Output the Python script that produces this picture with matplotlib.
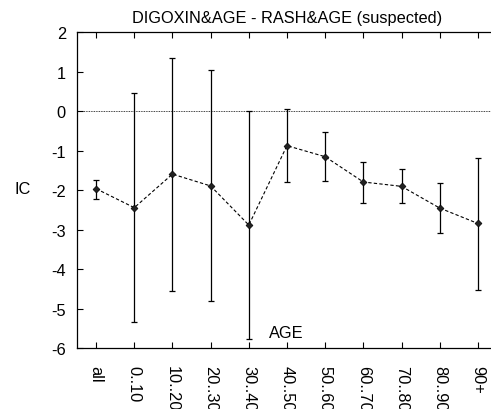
"""IC by age band with error bars, gnuplot-like look."""

import matplotlib.pyplot as plt
import numpy as np

plt.rcParams["font.family"] = ["Liberation Sans", "DejaVu Sans"]

# Age bands and the IC estimates with their lower / upper bounds
categories = ["all", "0..10", "10..20", "20..30", "30..40", "40..50",
              "50..60", "60..70", "70..80", "80..90", "90+"]
ic_values = [-1.96, -2.44, -1.59, -1.89, -2.88, -0.87,
             -1.15, -1.79, -1.90, -2.45, -2.84]
ic_lower = [-2.21, -5.34, -4.54, -4.81, -5.77, -1.78,
            -1.77, -2.31, -2.33, -3.09, -4.52]
ic_upper = [-1.73, 0.47, 1.36, 1.04, 0.02, 0.06,
            -0.53, -1.28, -1.45, -1.81, -1.18]
y_ticks = [2, 1, 0, -1, -2, -3, -4, -5, -6]

W, H, DPI = 491, 410, 100
FS = 11.8
fig = plt.figure(figsize=(W / DPI, H / DPI), dpi=DPI, facecolor="white")

# axes box in pixels: left 77, top 33, bottom 349, running past the right edge
left, top, bottom, right = 77, 33.3, 349.3, 497
ax = fig.add_axes([left / W, 1 - bottom / H, (right - left) / W, (bottom - top) / H])

x = np.arange(len(categories))
vals = np.array(ic_values)
err = np.vstack([vals - np.array(ic_lower), np.array(ic_upper) - vals])

ax.axhline(0, color="black", linewidth=0.6, linestyle=(0, (1, 1)), zorder=1)
ax.errorbar(x, vals, yerr=err, fmt="none", ecolor="black", elinewidth=0.9,
            capsize=2, capthick=0.9, zorder=2)
ax.plot(x, vals, color="black", linewidth=0.8, linestyle=(0, (3, 2)), zorder=3)
ax.plot(x, vals, linestyle="none", marker="D", markersize=3.5,
        color="#222222", markeredgecolor="black", markeredgewidth=0.5, zorder=4)

ax.set_xlim(-0.5, 10.5)
ax.set_ylim(-6, 2)
ax.set_yticks(y_ticks)
ax.set_yticklabels([str(v) for v in y_ticks])
ax.set_xticks(x)
ax.set_xticklabels(categories, rotation=270, va="top", ha="center")

ax.tick_params(axis="x", direction="in", length=4, width=0.8, top=True,
               labelsize=FS, pad=12)
ax.tick_params(axis="y", direction="in", length=4, width=0.8, labelsize=FS,
               pad=8)
for side in ("left", "bottom", "top"):
    ax.spines[side].set_linewidth(0.9)
ax.spines["right"].set_visible(False)

fig.text(287 / W, 1 - 18 / H, "DIGOXIN&AGE - RASH&AGE (suspected)",
         ha="center", va="center", fontsize=FS)
fig.text(23 / W, 1 - 190 / H, "IC", ha="center", va="center", fontsize=FS)
fig.text(286 / W, 1 - 334 / H, "AGE", ha="center", va="center", fontsize=FS)

fig.savefig("out.png", dpi=DPI, facecolor="white")
